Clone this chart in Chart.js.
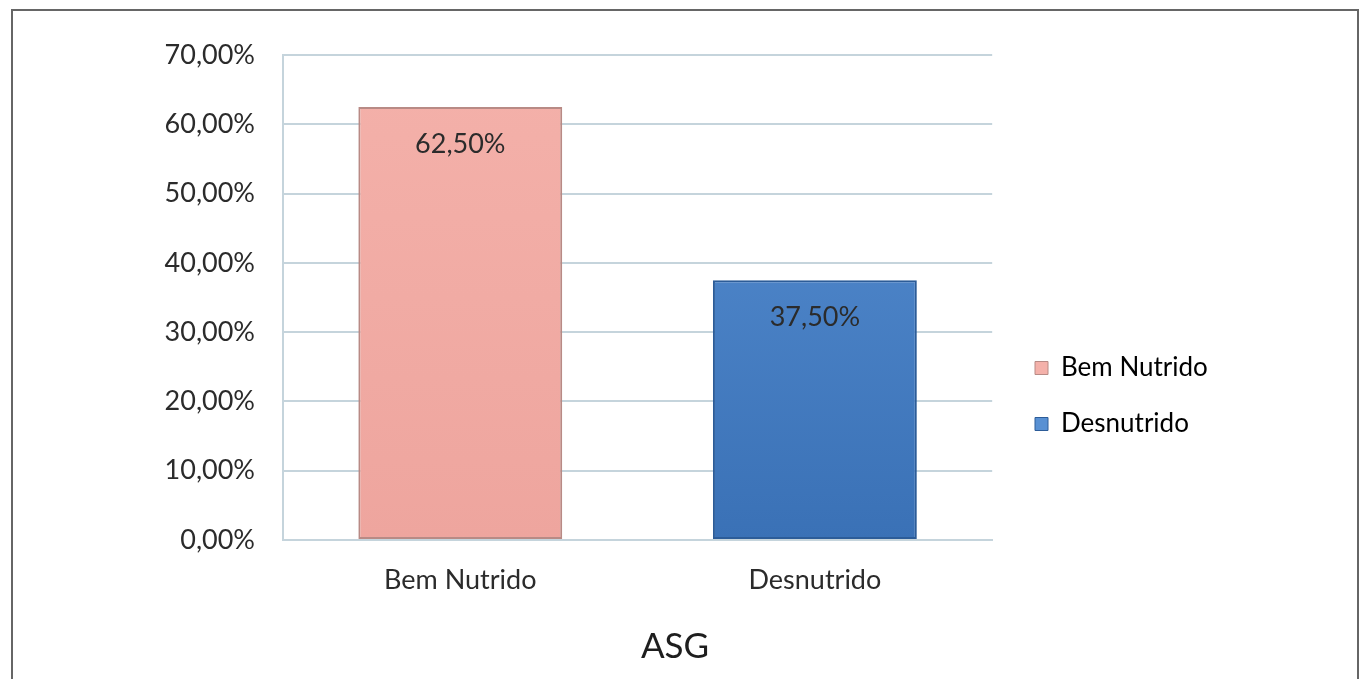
<!DOCTYPE html>
<html>
<head>
<meta charset="utf-8">
<script src="https://cdn.jsdelivr.net/npm/chart.js@4.4.1/dist/chart.umd.min.js"></script>
<style>
  html, body { margin: 0; padding: 0; background: #fff; }
  #wrap { position: relative; width: 1360px; height: 679px; overflow: hidden; }
  #frame { position: absolute; left: 11px; top: 9px; right: 1px; height: 720px; border: 2px solid #666; border-bottom: none; box-sizing: border-box; pointer-events: none; }
  canvas { position: absolute; left: 0; top: 0; }
</style>
</head>
<body>
<div id="wrap">
  <canvas id="asgChart" width="1360" height="679"></canvas>
  <div id="frame"></div>
</div>
<script>
// dados
const categorias = ['Bem Nutrido', 'Desnutrido'];
const valores = [62.5, 37.5];
const coresTopo = ['#f4b1aa', '#5890d3'];
const coresBase = ['#eea59e', '#3a71b6'];
const bordas = ['#b88a85', '#2c5c98'];
const ticksY = [0, 10, 20, 30, 40, 50, 60, 70];

const fmt = v => v.toFixed(2).replace('.', ',') + '%';

// degradê vertical das barras
function corBarra(c) {
    const area = c.chart.chartArea;
    const i = c.dataIndex;
    if (!area) return coresTopo[i];
    const g = c.chart.ctx.createLinearGradient(0, area.top, 0, area.bottom);
    g.addColorStop(0, coresTopo[i]);
    g.addColorStop(1, coresBase[i]);
    return g;
}

// rótulos dentro das barras
const rotulos = {
    id: 'rotulos',
    afterDatasetsDraw(chart) {
        const ctx = chart.ctx;
        const meta = chart.getDatasetMeta(0);
        ctx.save();
        ctx.font = '27px Lato';
        ctx.fillStyle = '#2b2b2b';
        ctx.textAlign = 'center';
        ctx.textBaseline = 'middle';
        meta.data.forEach((bar, i) => {
            ctx.fillText(fmt(valores[i]), bar.x, bar.y + 37);
        });
        ctx.restore();
    }
};

// posiciona legenda e título como no original
const posicoes = {
    id: 'posicoes',
    afterLayout(chart) {
        const lg = chart.legend;
        const h = lg.bottom - lg.top;
        lg.left = 1005;
        lg.right = lg.left + lg.width;
        lg.top = 325;
        lg.bottom = lg.top + h;

        const t = chart.titleBlock;
        t.left = 0;
        t.right = 1350;
    }
};

new Chart(document.getElementById('asgChart'), {
    type: 'bar',
    data: {
        labels: categorias,
        datasets: [{
            label: 'ASG',
            data: valores,
            backgroundColor: corBarra,
            borderColor: bordas,
            borderWidth: 2,
            borderSkipped: false,
            barPercentage: 0.575,
            categoryPercentage: 1
        }]
    },
    options: {
        responsive: false,
        animation: false,
        layout: { padding: { left: 0, top: 55, right: 155, bottom: 0 } },
        plugins: {
            tooltip: { enabled: false },
            title: {
                display: true,
                text: 'ASG',
                position: 'bottom',
                color: '#1e1e1e',
                font: { family: 'Lato', size: 35, weight: 'normal' },
                padding: { top: 0, bottom: 11 }
            },
            legend: {
                position: 'right',
                align: 'start',
                labels: {
                    boxWidth: 13,
                    boxHeight: 13,
                    padding: 30,
                    color: '#2b2b2b',
                    font: { family: 'Lato', size: 26 },
                    generateLabels(chart) {
                        return categorias.map((c, i) => ({
                            text: c,
                            fillStyle: coresTopo[i],
                            strokeStyle: bordas[i],
                            lineWidth: 1,
                            index: i
                        }));
                    }
                }
            }
        },
        scales: {
            x: {
                grid: { display: false, drawTicks: false },
                border: { display: true, color: '#c5d4dc', width: 2 },
                ticks: { color: '#2b2b2b', padding: 24, font: { family: 'Lato', size: 27 } },
                afterFit(scale) { scale.height = 86; }
            },
            y: {
                min: 0,
                max: 70,
                afterBuildTicks(scale) { scale.ticks = ticksY.map(v => ({ value: v })); },
                grid: { color: '#c5d4dc', lineWidth: 2, drawTicks: false },
                border: { display: true, color: '#c5d4dc', width: 2 },
                ticks: { color: '#2b2b2b', padding: 28, font: { family: 'Lato', size: 27 }, callback: v => fmt(v) },
                afterFit(scale) { scale.width = 283; }
            }
        }
    },
    plugins: [rotulos, posicoes]
});
</script>
</body>
</html>
